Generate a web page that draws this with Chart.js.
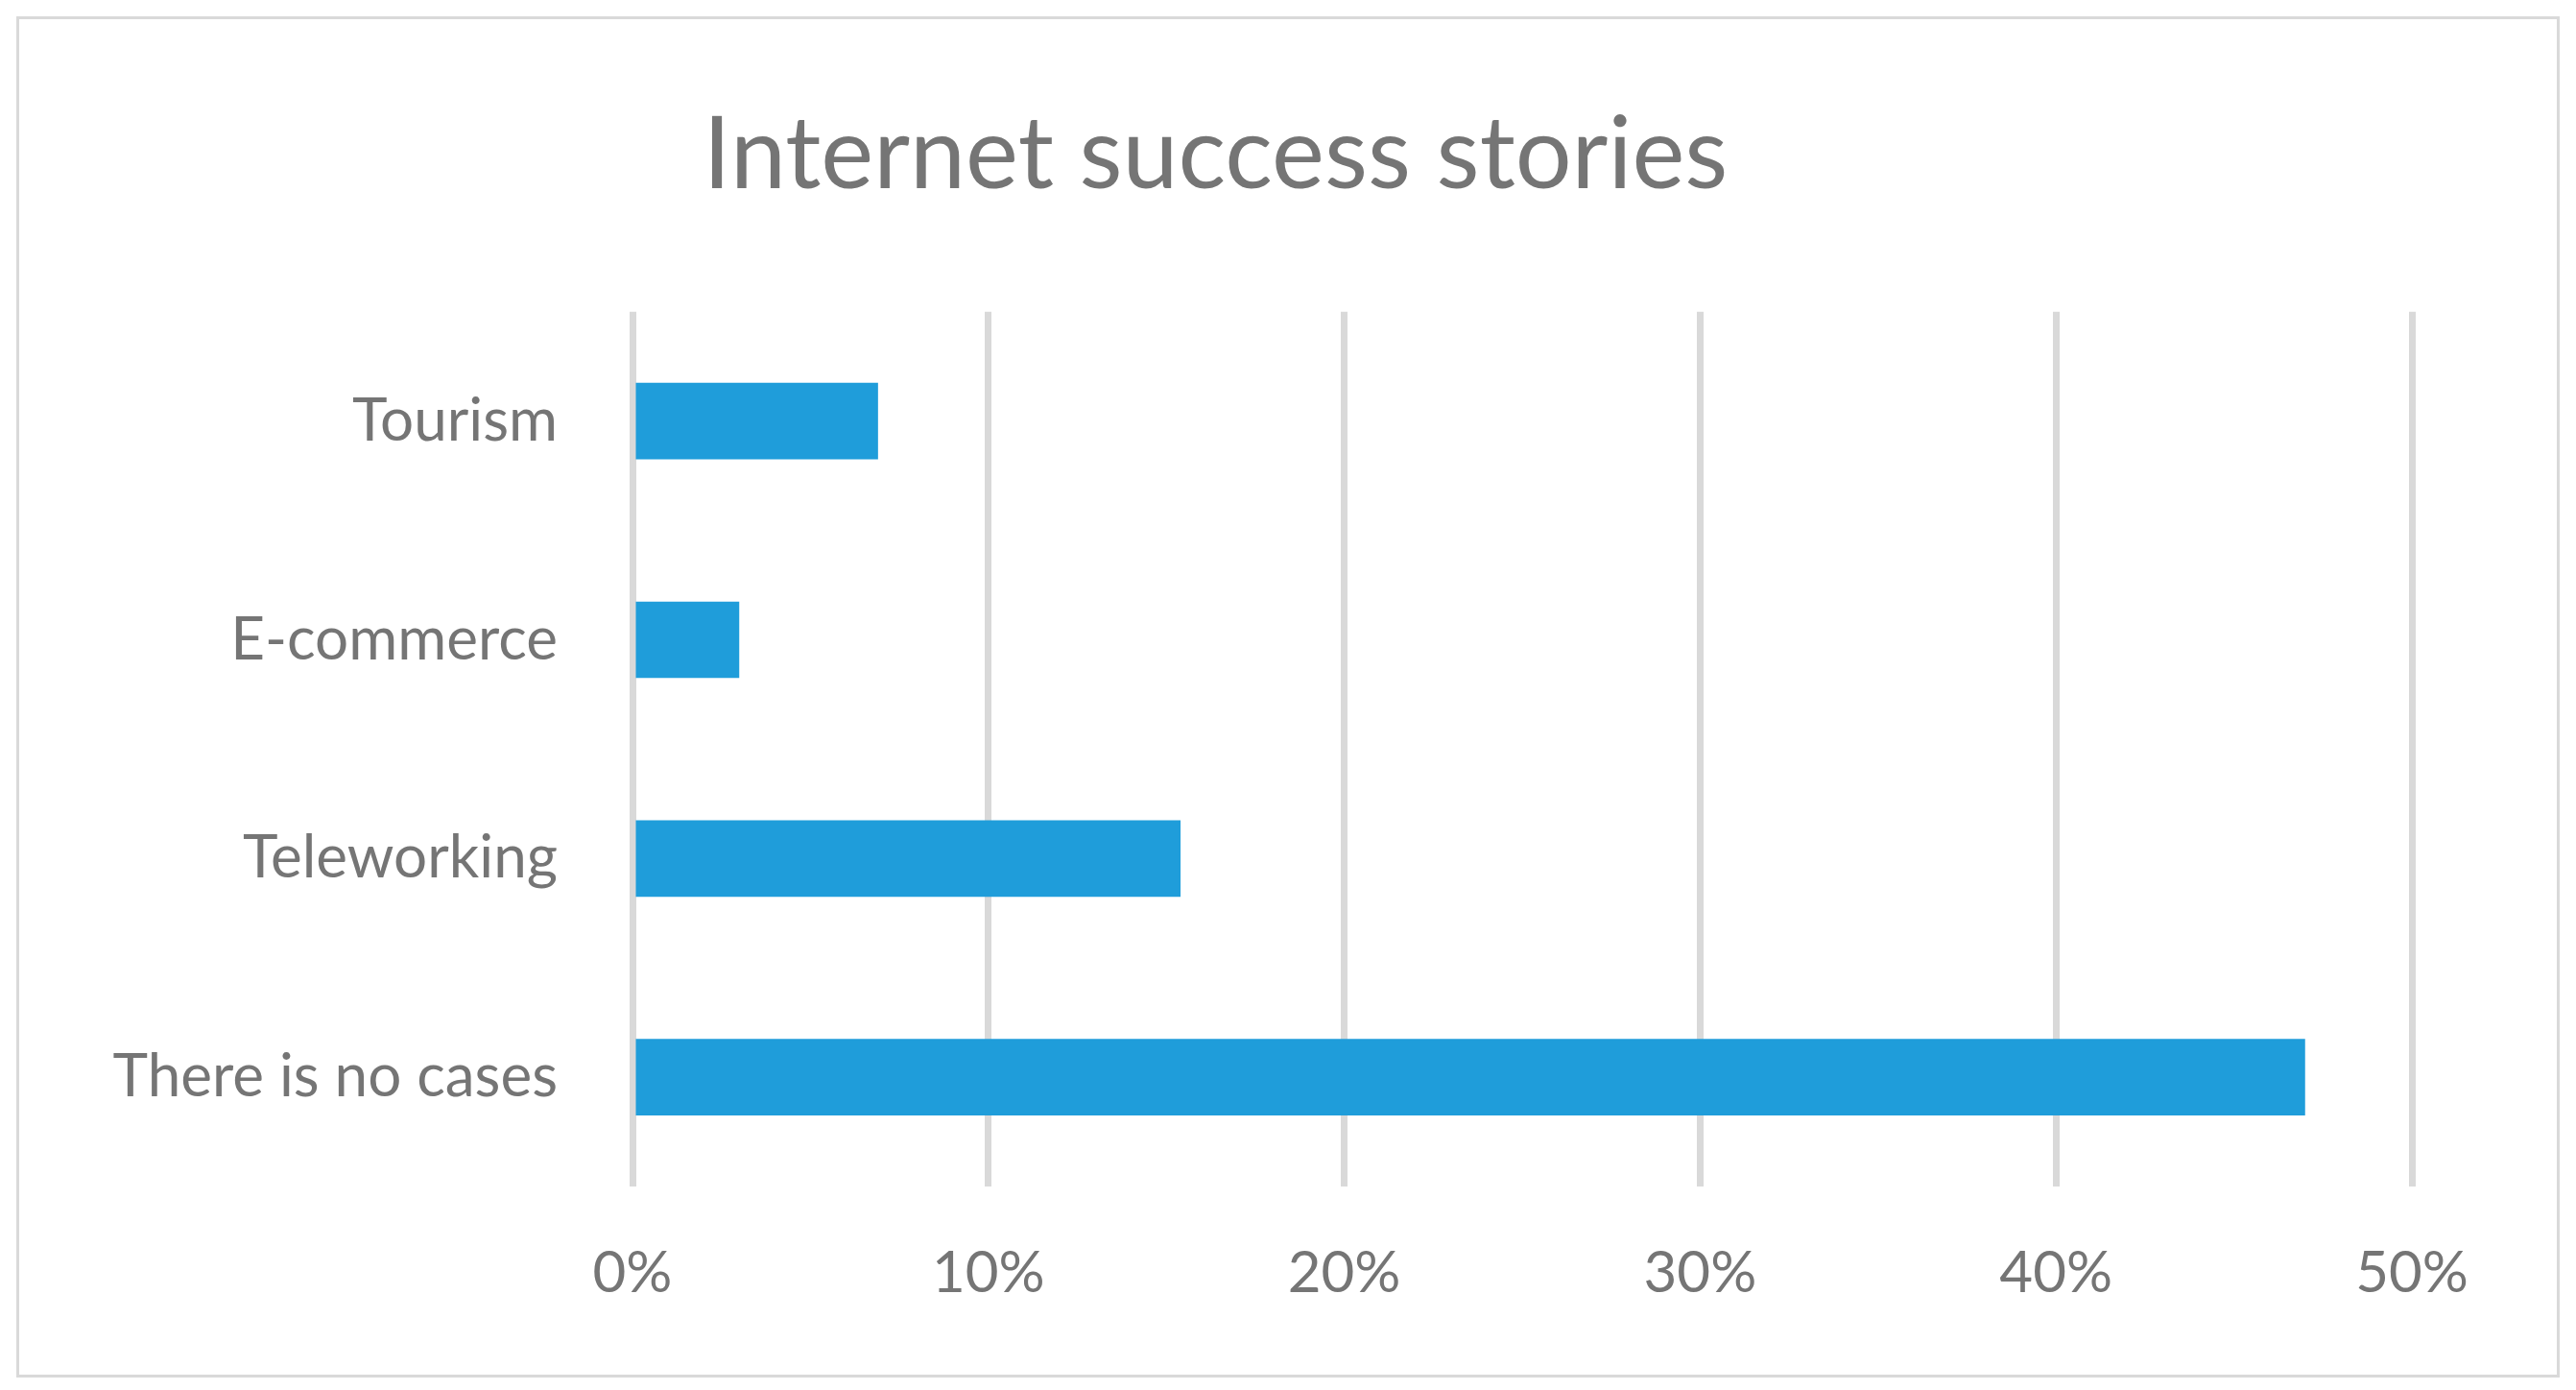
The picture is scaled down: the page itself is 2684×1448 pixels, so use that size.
<!DOCTYPE html>
<html><head><meta charset="utf-8">
<script src="https://cdn.jsdelivr.net/npm/chart.js@4"></script>
<style>
body{margin:0;background:#fff;}
#box{position:absolute;left:17px;top:17px;width:2644px;height:1412px;border:3px solid #d9d9d9;}
</style></head>
<body>
<div id="box"><canvas id="c" width="2644" height="1412"></canvas></div>
<script>
const categories = ['Tourism', 'E-commerce', 'Teleworking', 'There is no cases'];
const values = [6.9, 3.0, 15.4, 47.0];
const tickMax = 50;

new Chart(document.getElementById('c'), {
    type: 'bar',
    data: {
        labels: categories,
        datasets: [{ data: values, backgroundColor: '#1f9dda', barPercentage: 0.7, categoryPercentage: 0.5 }],
    },
    options: {
        indexAxis: 'y',
        responsive: false,
        animation: false,
        layout: { padding: { left: 0, right: 151, top: 0, bottom: 0 } },
        plugins: {
            legend: { display: false },
            tooltip: { enabled: false },
            title: {
                display: true,
                text: 'Internet success stories',
                color: '#757575',
                font: { family: 'Lato, "Open Sans", sans-serif', size: 104, weight: 'normal' },
                padding: { top: 80, bottom: 100 },
            },
        },
        scales: {
            x: {
                min: 0, max: tickMax,
                ticks: { stepSize: 10, color: '#757575', padding: 55,
                    font: { family: 'Lato, "Open Sans", sans-serif', size: 60 },
                    callback: v => v + '%' },
                grid: { color: '#d9d9d9', lineWidth: 7, drawTicks: false },
                border: { display: false },
                afterFit: s => { s.height = 196; },
            },
            y: {
                ticks: { color: '#757575', padding: 70,
                    font: { family: 'Lato, "Open Sans", sans-serif', size: 62 } },
                grid: { display: false },
                border: { display: false },
                afterFit: s => { s.width = 639; },
            },
        },
    },
});
</script>
</body></html>
